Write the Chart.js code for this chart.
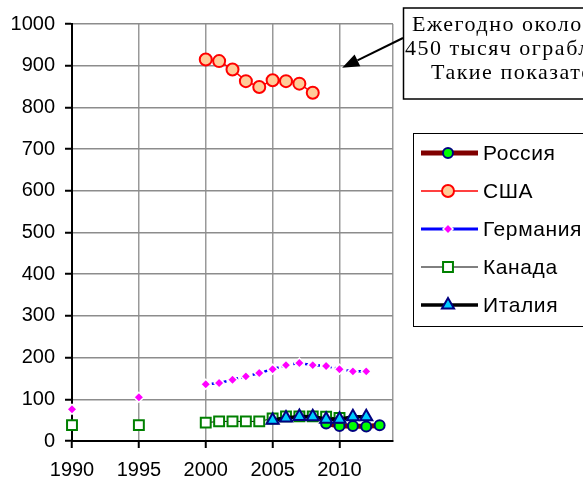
<!DOCTYPE html>
<html>
<head>
<meta charset="utf-8">
<script src="https://cdn.jsdelivr.net/npm/chart.js@4/dist/chart.umd.min.js"></script>
<style>
  html, body { margin: 0; padding: 0; background: #fff; overflow: hidden; }
  #wrap { width: 583px; height: 480px; position: relative; }
</style>
</head>
<body>
<div id="wrap"><canvas id="c" width="583" height="480"></canvas></div>
<script>
// ---- data ----
const years = [1990,1991,1992,1993,1994,1995,1996,1997,1998,1999,2000,2001,2002,2003,2004,2005,2006,2007,2008,2009,2010,2011,2012,2013];
const russia  = [null,null,null,null,null,null,null,null,null,null,null,null,null,null,null,null,null,null,null,42,36,36,35,38];
const usa     = [null,null,null,null,null,null,null,null,null,null,915,911,891,863,849,865,863,857,835,null,null,null,null,null];
const germany = [76,null,null,null,null,105,null,null,null,null,136,139,147,155,163,172,182,187,182,180,172,167,167,null];
const canada  = [38,null,null,null,null,38,null,null,null,null,44,47,47,47,47,54,59,59,59,58,55,null,null,null];
const italy   = [null,null,null,null,null,null,null,null,null,null,null,null,null,null,null,50,55,59,58,52,52,58,58,null];
const seriesNames = ['Россия','США','Германия','Канада','Италия'];
const xTickValues = [1990,1995,2000,2005,2010,2014];
const xTickLabels = ['1990','1995','2000','2005','2010',''];
const annotationLines = ['Ежегодно около','450 тысяч ограблений','Такие показатели'];

const toXY = vals => years.map((yr,i)=>({x:yr, y:vals[i]}));

Chart.defaults.font.family = "'Liberation Sans', Arial, sans-serif";
Chart.defaults.font.size = 20;
Chart.defaults.color = '#000';

const datasets = [
  { label: seriesNames[0], data: toXY(russia), borderColor:'#800000', borderWidth:5,
    pointStyle:'circle', pointRadius:5, pointBackgroundColor:'#00ff00', pointBorderColor:'#000080', pointBorderWidth:2, order:5 },
  { label: seriesNames[1], data: toXY(usa), borderColor:'#ff0000', borderWidth:1.5,
    pointStyle:'circle', pointRadius:6, pointBackgroundColor:'#ffcc99', pointBorderColor:'#ff0000', pointBorderWidth:2, order:4 },
  { label: seriesNames[2], data: toXY(germany), borderColor:'#0000ff', borderWidth:2.5, borderDash:[3,3],
    pointStyle:'rectRot', pointRadius:5, pointBackgroundColor:'#ff00ff', pointBorderColor:'#ffffff', pointBorderWidth:1.5, order:3, legendDash:[] , legendWidth:3},
  { label: seriesNames[3], data: toXY(canada), borderColor:'#000000', borderWidth:1,
    pointStyle:'rect', pointRadius:7, pointBackgroundColor:'#ffffff', pointBorderColor:'#008000', pointBorderWidth:2, order:2 },
  { label: seriesNames[4], data: toXY(italy), borderColor:'#000000', borderWidth:3.5,
    pointStyle:'triangle', pointRadius:7, pointBackgroundColor:'#00ccff', pointBorderColor:'#000080', pointBorderWidth:2, order:1 }
];
datasets.forEach(d => { d.showLine = true; d.spanGaps = false; d.fill = false; d.tension = 0; d.pointHoverRadius = d.pointRadius; d.clip = false; });

const overlay = {
  id: 'overlay',
  afterDraw(chart) {
    const ctx = chart.ctx;
    const xs = chart.scales.x, ys = chart.scales.y;
    ctx.save();
    // ---- annotation box ----
    ctx.fillStyle = '#fff';
    ctx.fillRect(403, 8, 300, 91);
    ctx.strokeStyle = '#000'; ctx.lineWidth = 1.5;
    ctx.strokeRect(403.5, 8, 300, 91);
    ctx.fillStyle = '#000';
    ctx.font = "22px 'Liberation Serif', 'Times New Roman', serif";
    ctx.letterSpacing = '1.5px';
    ctx.textBaseline = 'alphabetic';
    ctx.textAlign = 'left';
    ctx.fillText(annotationLines[0], 412, 31);
    ctx.fillText(annotationLines[1], 405, 55);
    ctx.fillText(annotationLines[2], 431, 79);
    ctx.letterSpacing = '0px';
    // ---- arrow ----
    const tx = xs.getPixelForValue(2010.2), ty = ys.getPixelForValue(895);
    const sx = 403, sy = 38;
    const ang = Math.atan2(ty - sy, tx - sx);
    const hl = 17, hw = 6.5;
    const bx = tx - hl*Math.cos(ang), by = ty - hl*Math.sin(ang);
    ctx.strokeStyle = '#000'; ctx.lineWidth = 2;
    ctx.beginPath(); ctx.moveTo(sx, sy); ctx.lineTo(bx, by); ctx.stroke();
    ctx.beginPath();
    ctx.moveTo(tx, ty);
    ctx.lineTo(bx + hw*Math.sin(ang), by - hw*Math.cos(ang));
    ctx.lineTo(bx - hw*Math.sin(ang), by + hw*Math.cos(ang));
    ctx.closePath(); ctx.fillStyle = '#000'; ctx.fill();
    // ---- legend ----
    ctx.fillStyle = '#fff';
    ctx.fillRect(413, 133, 200, 194);
    ctx.strokeStyle = '#000'; ctx.lineWidth = 1;
    ctx.strokeRect(413.5, 133.5, 200, 193);
    chart.data.datasets.forEach((ds, i) => {
      const y = 153 + i*38;
      ctx.beginPath();
      ctx.strokeStyle = ds.borderColor;
      ctx.lineWidth = ds.legendWidth || ds.borderWidth;
      ctx.setLineDash(ds.legendDash || []);
      ctx.moveTo(421, y); ctx.lineTo(478, y); ctx.stroke();
      ctx.setLineDash([]);
      ctx.fillStyle = ds.pointBackgroundColor;
      ctx.strokeStyle = ds.pointBorderColor;
      ctx.lineWidth = ds.pointBorderWidth;
      Chart.helpers.drawPoint(ctx, {pointStyle: ds.pointStyle, radius: ds.pointRadius, borderWidth: ds.pointBorderWidth, rotation: 0}, 448, y);
      ctx.fillStyle = '#000';
      ctx.font = "21px 'Liberation Sans', Arial, sans-serif";
      ctx.letterSpacing = '0.6px';
      ctx.textBaseline = 'middle';
      ctx.fillText(ds.label, 483, y + 1);
      ctx.letterSpacing = '0px';
    });
    ctx.restore();
  }
};

new Chart(document.getElementById('c'), {
  type: 'scatter',
  data: { datasets },
  options: {
    responsive: false,
    animation: false,
    events: [],
    layout: { padding: { top: 24, right: 190, left: 0, bottom: 0 } },
    plugins: { legend: { display: false }, tooltip: { enabled: false } },
    scales: {
      x: {
        type: 'linear', min: 1990, max: 2014,
        afterFit: s => { s.height = 39; },
        afterBuildTicks: s => { s.ticks = xTickValues.map(v => ({ value: v })); },
        ticks: {
          autoSkip: false, maxRotation: 0, padding: 10,
          callback: (v) => xTickLabels[xTickValues.indexOf(v)] ?? ''
        },
        border: { color: '#000', width: 2 },
        grid: {
          color: c => (c.tick && c.tick.value === 1990) ? 'rgba(0,0,0,0)' : '#999999',
          lineWidth: 1.5,
          tickLength: 7,
          tickColor: c => (c.tick && c.tick.value === 2014) ? 'rgba(0,0,0,0)' : '#000',
          tickWidth: 2
        }
      },
      y: {
        min: 0, max: 1000,
        afterFit: s => { s.width = 72; },
        ticks: {
          stepSize: 50, padding: 10,
          callback: v => (v % 100 === 0) ? String(v) : ''
        },
        border: { color: '#000', width: 2 },
        grid: {
          color: c => (c.tick && c.tick.value % 100 !== 0) ? '#c4c4c4' : '#8c8c8c',
          lineWidth: c => (c.tick && c.tick.value % 100 !== 0) ? 1 : 1.5,
          tickLength: 7,
          tickColor: c => (c.tick && c.tick.value % 100 !== 0) ? 'rgba(0,0,0,0)' : '#000',
          tickWidth: 2
        }
      }
    }
  },
  plugins: [overlay]
});
</script>
</body>
</html>
